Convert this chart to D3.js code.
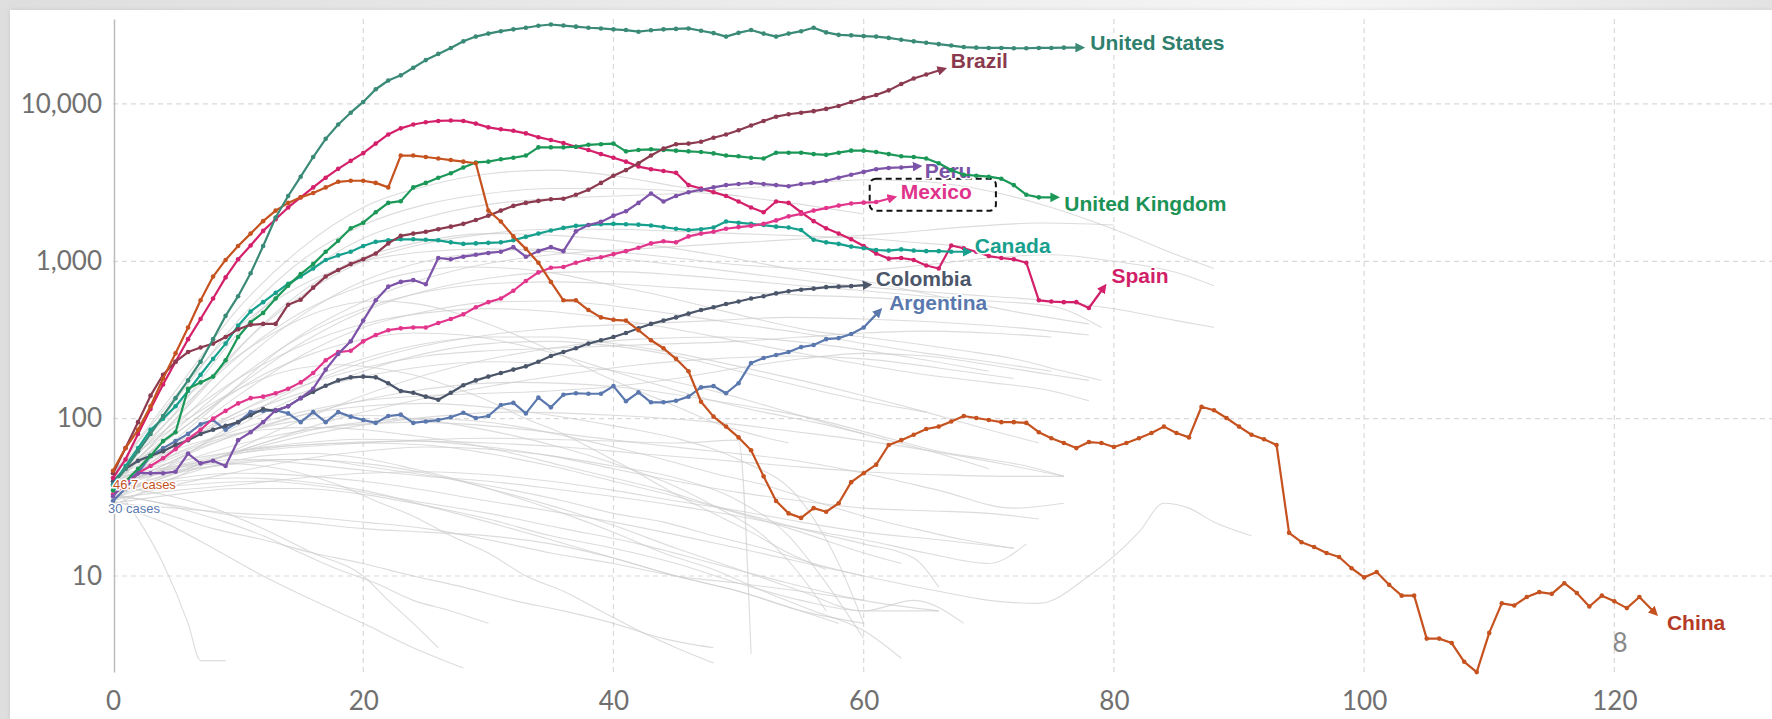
<!DOCTYPE html>
<html>
<head>
<meta charset="utf-8">
<script src="https://cdnjs.cloudflare.com/ajax/libs/d3/7.8.5/d3.min.js"></script>
<style>
  html, body { margin: 0; padding: 0; }
  body {
    width: 1772px; height: 719px; overflow: hidden; position: relative;
    background: linear-gradient(to right, #dedede 0%, #e9e9e9 35%, #f5f5f5 75%, #e3e3e3 100%);
  }
  #panel {
    position: absolute; left: 10px; top: 10px; width: 1762px; height: 709px;
    background: #fff; box-shadow: 0 0 4px rgba(0,0,0,0.10);
  }
  #chart { position: absolute; left: 0; top: 0; }
  .tick text { font-family: Lato, "Open Sans", sans-serif; fill: #707070; font-size: 26px; }
  .label { font-family: "Liberation Sans", Arial, sans-serif; font-weight: bold; font-size: 21px;
           paint-order: stroke; stroke: #fff; stroke-width: 3px; stroke-linejoin: round; }
</style>
</head>
<body>
<div id="panel"></div>
<div id="chart"></div>
<script>

// ---- data: 7-day average of daily new cases, by days since 30 average daily cases ----
var countries = ["Argentina", "Colombia", "Spain", "Canada", "Mexico", "Peru",
                 "United Kingdom", "Brazil", "China", "United States"];

var countryColors = ["#5a78ae", "#4b566a", "#d4206b", "#17a08e", "#e2368d", "#7c53a8",
                     "#1b9858", "#8c3a4f", "#c5521f", "#3a8a77"];

var labelColors = ["#5a78ae", "#4b566a", "#d01f68", "#17a08e", "#e0338b", "#7b52a6",
                   "#1b9256", "#8a3a4e", "#b43a26", "#2f7f6d"];

var argentina = [30,36,45,58,65,72,80,92,98,85, 95,110,112,113,108,95,110,95,110,103,
  98,94,104,106,94,96,98,102,109,101, 104,122,126,108,136,118,142,145,144,144,
  161,129,147,127,127,130,138,158,161,145, 168,226,243,254,265,285,294,320,325,345, 380,460];

var colombia = [40,48,54,58,62,68,73,80,85,90, 95,105,115,112,120,135,148,162,175,183,
  185,183,168,150,146,138,132,146,163,175, 185,195,205,215,230,250,265,280,300,315,
  330,350,375,400,420,440,465,490,510,535, 555,580,600,625,645,660,670,685,690,695, 705];

var spain = [42,55,80,115,165,230,320,430,580,790, 1030,1260,1560,1850,2200,2550,2950,3400,3870,4350,
  4870,5600,6400,7000,7400,7650,7800,7850,7800,7500, 7100,6900,6750,6500,6150,5900,5650,5350,5100,4800,
  4550,4300,4000,3850,3750,3650,3050,2900,2750,2600, 2400,2200,2050,2400,2350,2050,1800,1620,1500,1380,
  1250,1120,1040,1050,1020,940,900,1260,1210,1150, 1080,1050,1030,980,565,555,550,550,505,650];

var canada = [38,50,65,85,100,120,150,190,240,300, 390,480,550,630,720,800,900,1020,1090,1150,
  1250,1330,1360,1380,1380,1370,1360,1320,1290,1300, 1310,1320,1360,1430,1500,1570,1630,1680,1700,1720,
  1730,1720,1710,1690,1650,1610,1580,1600,1640,1790, 1760,1730,1700,1660,1640,1580,1370,1320,1290,1240,
  1210,1180,1170,1190,1170,1160,1160,1150,1150];

var mexico = [33,38,45,50,56,64,74,85,100,112, 125,135,138,145,155,170,195,235,265,270,
  310,340,365,375,380,380,405,430,460,510, 550,580,650,750,850,910,920,980,1030,1060,
  1110,1160,1220,1300,1340,1320,1440,1500,1540,1610, 1650,1680,1730,1820,1930,2000,2100,2180,2260,2330,
  2360,2380,2500];

var peru = [32,40,45,45,45,46,60,52,54,50, 73,82,95,113,120,135,155,205,258,310,
  420,565,690,740,760,715,1050,1030,1070,1100, 1130,1150,1230,1070,1160,1230,1160,1550,1700,1780,
  1950,2080,2350,2700,2400,2600,2750,2850,2950,3050, 3100,3150,3100,3050,3000,3100,3150,3250,3400,3550,
  3700,3850,3920,3950,4000];

var unitedKingdom = [35,40,48,58,72,82,155,170,185,235, 330,410,470,580,700,830,960,1150,1350,1620,
  1760,2050,2350,2410,2950,3150,3400,3630,3950,4250, 4300,4450,4550,4700,5300,5300,5300,5350,5500,5550,
  5600,5000,5100,5150,5100,5050,5000,4950,4850,4700, 4650,4550,4500,4900,4900,4900,4800,4750,4900,5050,
  5050,4950,4800,4650,4600,4500,4200,3800,3550,3500, 3450,3350,3050,2650,2550,2550];

var brazil = [45,65,95,140,190,230,265,283,300,330, 370,395,400,400,530,570,680,800,880,960,
  1030,1120,1300,1450,1500,1540,1600,1660,1730,1830, 1950,2100,2250,2350,2420,2480,2500,2650,2850,3150,
  3500,3800,4200,4700,5200,5550,5600,5750,6100,6400, 6800,7300,7800,8300,8600,8800,9000,9300,9700,10300,
  10900,11400,12200,13400,14500,15400,16300];

var china = [46.7,65,85,120,180,260,380,565,800,1020, 1250,1500,1800,2100,2350,2550,2720,2950,3200,3250,
  3250,3150,2950,4700,4700,4600,4500,4400,4300,4200, 2100,1790,1440,1200,980,740,565,565,490,440,
  425,420,365,315,280,240,200,128,103,89, 76,63,43,30,25,23.4,27,25.6,29,39.5,
  45,51,68,73,79,86,89,96,104,101, 98,95,95,94,82,75,70,65,71,70,
  66,70,75,81,89,81,76,119,113,101, 89,79,74,68,18.8,16.4,15.3,14,13.2,11.2,
  9.8,10.6,8.8,7.5,7.5,4.0,4.0,3.75,2.85,2.45, 4.35,6.7,6.5,7.35,7.9,7.7,9.0,7.8,6.4,7.5,
  6.9,6.25,7.35,6.1];

var unitedStates = [38,48,62,80,104,135,175,230,320,450, 600,840,1250,1900,2600,3450,4600,6000,7400,8800,
  10300,12400,14100,15200,17000,19000,20800,22700,25000,26800, 28000,29000,29800,30500,31400,32000,31500,31000,30500,30200,
  29800,29500,28800,29400,29800,30000,30200,29200,28200,26800, 28300,29500,28000,26800,28000,29000,30500,28500,27500,27300,
  27000,26800,26300,25600,25000,24500,24000,23500,23000,22800, 22700,22700,22600,22600,22700,22700,22800,22800];

var countryValues = [argentina, colombia, spain, canada, mexico, peru,
                     unitedKingdom, brazil, china, unitedStates];

// other countries, drawn in grey: [day, cases]
var otherCountries = [
  [[0,45],[5,150],[10,500],[15,1200],[20,2200],[25,3000],[30,3600],[35,3800],[40,3500],[45,3000],[50,2600],[55,2300],[60,2000]],
  [[0,40],[5,110],[10,350],[15,800],[20,1400],[25,1900],[30,2300],[35,2500],[40,2600],[45,2700],[50,2900],[55,3100],[60,3300],[65,3200],[70,2800],[75,2200],[80,1600],[85,1100],[88,900]],
  [[0,38],[6,120],[12,400],[18,900],[24,1300],[30,1500],[36,1450],[42,1300],[48,1100],[54,900],[60,750],[66,600],[72,480],[78,400]],
  [[0,42],[5,90],[10,220],[15,450],[20,750],[25,1000],[30,1150],[35,1200],[40,1150],[45,1050],[50,950],[55,900],[60,880],[65,950],[70,1050],[75,1100],[80,1000],[85,850],[88,700]],
  [[0,35],[7,100],[14,300],[21,600],[28,900],[35,1100],[42,1200],[49,1300],[56,1400],[62,1500],[68,1650],[74,1750],[80,1700]],
  [[0,44],[4,90],[8,180],[12,330],[16,520],[20,700],[24,850],[28,920],[32,900],[36,820],[40,700],[44,600],[48,500],[52,420],[56,360],[60,330],[64,300],[68,270],[72,240],[76,200],[79,175]],
  [[0,33],[5,70],[10,140],[15,250],[20,380],[25,480],[30,550],[35,560],[40,520],[45,460],[50,400],[55,350],[60,300],[65,260],[70,230],[75,200]],
  [[0,30],[6,60],[12,120],[18,200],[24,280],[30,340],[36,380],[42,400],[48,420],[54,440],[60,430],[66,410],[72,380],[78,340]],
  [[0,36],[5,55],[10,90],[15,140],[20,200],[25,260],[30,300],[35,310],[40,290],[45,250],[50,200],[55,160],[60,130],[65,110]],
  [[0,28],[7,50],[14,90],[21,150],[28,220],[35,280],[42,320],[49,330],[56,300],[63,250],[70,200]],
  [[0,40],[4,70],[8,120],[12,190],[16,260],[20,320],[24,350],[28,340],[32,300],[36,250],[40,200],[44,160],[48,130],[52,110],[56,95],[60,80]],
  [[0,32],[6,48],[12,70],[18,100],[24,130],[30,160],[36,190],[42,220],[48,240],[54,250],[60,240],[66,210],[72,180]],
  [[0,45],[3,80],[6,140],[9,220],[12,320],[15,430],[18,520],[21,560],[24,540],[27,480],[30,400],[33,320],[36,250],[39,190],[42,150],[45,120],[48,95],[51,80],[54,70]],
  [[0,37],[5,60],[10,85],[15,110],[20,130],[25,140],[30,145],[35,150],[40,160],[45,180],[50,210],[55,240],[60,260],[65,250],[70,220],[75,190],[78,175]],
  [[0,34],[8,55],[16,80],[24,100],[32,110],[40,105],[48,95],[56,80],[64,65],[72,50],[76,43]],
  [[0,38],[4,45],[8,50],[12,55],[16,55],[20,50],[24,45],[28,40],[32,35],[36,30],[40,25],[44,22],[48,18],[52,15],[56,12],[60,10]],
  [[0,35],[5,40],[10,42],[15,40],[20,35],[25,28],[30,22],[35,17],[40,13],[45,10],[50,8],[55,6],[60,5]],
  [[0,32],[3,30],[6,26],[9,22],[12,18],[15,14],[18,11],[21,9],[24,7],[27,6],[30,5]],
  [[0,40],[1,30],[2,23],[4,12],[6,5],[7,2.9],[9,2.9]],
  [[0,30],[4,25],[8,20],[12,17],[16,14],[20,12],[24,10],[28,8.5],[32,7],[36,6],[40,5],[44,4],[48,3.5]],
  [[0,42],[5,50],[10,55],[15,52],[20,47],[25,43],[30,40],[35,36],[40,32],[45,28],[50,24],[55,20],[60,17],[65,14],[70,12],[73,16]],
  [[0,36],[5,48],[10,60],[15,68],[20,70],[25,68],[30,60],[35,50],[40,40],[45,32],[50,25],[55,19],[60,14],[63,12]],
  [[0,28],[4,22],[8,15],[12,10],[16,7],[20,5],[24,3.5],[28,2.6]],
  [[0,34],[6,38],[12,40],[18,36],[24,30],[30,25],[36,20],[42,16],[48,12],[54,9],[60,7],[66,6]],
  [[0,39],[3,45],[6,50],[9,52],[12,50],[15,45],[18,38],[21,30],[24,24],[27,18],[30,14],[33,10],[36,8],[39,6],[42,4.5],[45,3.5],[48,2.8]],
  [[0,31],[5,35],[10,38],[15,42],[20,45],[25,46],[30,44],[35,40],[40,35],[45,30],[50,26],[55,22],[60,19],[66,17],[72,15]],
  [[0,45],[4,60],[8,75],[12,85],[16,88],[20,85],[24,78],[28,70],[32,60],[36,50],[40,42],[44,35],[48,28],[52,23],[56,19],[60,16],[64,13],[66,8.5]],
  [[0,33],[5,28],[10,24],[15,22],[20,20],[25,19],[30,18],[35,16],[40,13],[45,10],[50,8],[55,6],[58,5]],
  [[0,37],[4,33],[8,27],[12,20],[16,14],[20,10],[22,7],[24,5],[26,3.5]],
  [[0,43],[6,55],[12,65],[18,70],[24,72],[30,70],[36,66],[42,60],[48,55],[54,50],[60,46],[66,44],[72,43],[76,43]],
  [[0,29],[5,33],[10,36],[15,36],[20,33],[25,28],[30,23],[35,18],[40,15],[45,12],[50,9],[55,7],[60,6],[66,6]],
  [[0,35],[10,45],[20,40],[30,30],[40,22],[50,15],[60,10],[66,8],[70,7],[74,6.7],[78,10],[82,19],[84,29],[86,27],[88,22],[91,18]],
  [[0,40],[8,70],[16,110],[24,150],[32,170],[40,160],[48,130],[56,100],[62,75],[66,62],[70,55],[73,50],[76,43]],
  [[0,36],[6,55],[12,75],[18,90],[24,95],[30,90],[36,80],[42,70],[48,62],[54,55],[60,45],[66,35],[72,27],[76,29]],
  [[0,31],[4,40],[8,50],[12,58],[16,60],[20,56],[24,48],[28,40],[32,32],[36,25],[40,19],[44,14],[48,11],[52,8],[56,6],[60,4.5],[63,3]],
  [[0,47],[3,70],[6,100],[9,140],[12,180],[15,210],[18,220],[21,210],[24,190],[27,160],[30,130],[33,100],[36,80],[39,60],[42,45],[45,33],[48,25],[51,19],[54,14],[57,11]],
  [[0,38],[5,65],[10,110],[15,170],[20,240],[25,300],[30,330],[35,330],[40,300],[45,260],[50,215],[55,175],[60,140],[65,110],[70,85],[74,70]],
  [[0,42],[5,80],[10,160],[15,300],[20,480],[25,650],[30,780],[35,850],[40,860],[45,820],[50,760],[55,700],[60,650],[65,600],[70,560],[75,520],[79,380]],
  [[0,38],[10,60],[20,70],[30,75],[40,72],[45,70],[50,73],[51,3.2]],
  [[0,40],[5,130],[10,420],[15,1000],[20,1700],[25,2300],[30,2700],[35,2900],[40,2900],[45,2800],[50,2600]],
  [[0,36],[5,100],[10,280],[15,600],[20,1000],[25,1300],[30,1500],[35,1600],[40,1600],[45,1550],[50,1500],[55,1450],[60,1400],[65,1300],[68,1250]],
  [[0,44],[5,140],[10,380],[15,700],[20,1000],[25,1150],[30,1200],[35,1150],[40,1050],[45,950],[50,850],[55,760],[60,690],[65,640],[70,600],[75,560],[80,500],[85,420],[88,380]],
  [[0,39],[5,85],[10,180],[15,330],[20,500],[25,640],[30,720],[35,740],[40,720],[45,680],[50,640],[55,610],[60,590],[65,560],[70,520]],
  [[0,35],[5,55],[10,80],[15,105],[20,120],[25,125],[30,118],[35,105],[40,90],[45,75],[50,55],[55,30],[58,12],[60,5]],
  [[0,41],[6,75],[12,120],[18,170],[24,210],[30,230],[36,220],[42,190],[48,150],[54,110],[60,80],[66,60],[70,48]],
  [[0,30],[5,38],[10,46],[15,55],[20,62],[25,66],[30,64],[35,58],[40,50],[45,42],[50,30],[54,18],[57,9],[60,4]],
  [[0,33],[4,42],[8,55],[12,70],[16,85],[20,95],[24,100],[28,98],[32,90],[36,78],[40,66],[44,55],[48,45],[52,38],[56,30],[60,24],[64,20],[68,17],[72,15]],
  [[0,46],[5,95],[10,180],[15,290],[20,400],[25,470],[30,500],[35,480],[40,430],[45,370],[50,310],[55,260],[60,220],[65,190],[70,170],[75,150],[78,130]],
  [[0,34],[5,45],[10,52],[15,55],[20,52],[25,45],[30,36],[35,28],[40,21],[45,15],[50,11],[55,8],[60,6],[64,7],[68,5]],
  [[0,29],[5,27],[10,25],[15,24],[20,22],[25,20],[30,17],[35,14],[40,12],[45,10],[50,9],[55,8],[60,7]],
  [[0,39],[4,55],[8,72],[12,88],[16,100],[20,105],[24,100],[28,90],[32,78],[36,65],[40,52],[44,40],[48,28],[52,18],[55,10],[57,6]],
  [[0,43],[5,70],[10,110],[15,160],[20,210],[25,250],[30,270],[35,280],[40,290],[45,300],[50,310],[55,330],[60,350],[65,360],[70,350],[75,330]],
  [[0,37],[5,50],[10,62],[15,70],[20,74],[25,72],[30,66],[35,58],[40,48],[45,40],[50,34],[55,30],[60,27],[65,26],[70,25],[74,23]]
];

var xTicks = [0, 20, 40, 60, 80, 100, 120];
var yTicks = [10, 100, 1000, 10000];

// ---- layout ----
var width = 1772, height = 719;
var plot = {left: 113, top: 19, bottom: 672, right: 1772};

var svg = d3.select("#chart").append("svg")
    .attr("width", width)
    .attr("height", height);

var x = d3.scaleLinear().domain([0, 132.6]).range([plot.left, plot.right]);
var y = d3.scaleLog().domain([2.454, 34670]).range([plot.bottom, plot.top]);

svg.append("clipPath").attr("id", "clip")
  .append("rect")
    .attr("x", plot.left).attr("y", plot.top - 5)
    .attr("width", plot.right - plot.left).attr("height", plot.bottom - plot.top + 5);

// grid
svg.append("g").selectAll("line")
  .data(yTicks).enter().append("line")
    .attr("x1", plot.left).attr("x2", plot.right)
    .attr("y1", d => y(d)).attr("y2", d => y(d))
    .attr("stroke", "#d9d9d9").attr("stroke-width", 1.2).attr("stroke-dasharray", "5,4");

svg.append("g").selectAll("line")
  .data(xTicks.filter(d => d > 0)).enter().append("line")
    .attr("x1", d => x(d)).attr("x2", d => x(d))
    .attr("y1", plot.top).attr("y2", plot.bottom)
    .attr("stroke", "#d9d9d9").attr("stroke-width", 1.2).attr("stroke-dasharray", "5,4");

// axes
var yAxis = svg.append("g")
  .attr("transform", "translate(" + (plot.left + 1) + ",0)")
  .call(d3.axisLeft(y).tickValues(yTicks).tickFormat(d3.format(",")).tickSize(0).tickSizeOuter(0).tickPadding(12));
yAxis.select(".domain").attr("stroke", "#bdbdbd").attr("stroke-width", 1.5);

var xAxis = svg.append("g")
  .attr("transform", "translate(0," + plot.bottom + ")")
  .call(d3.axisBottom(x).tickValues(xTicks).tickSize(0).tickPadding(20));
xAxis.select(".domain").remove();

// grey lines
var greyLine = d3.line()
  .x(d => x(d[0]))
  .y(d => y(d[1]))
  .curve(d3.curveMonotoneX);

svg.append("g").attr("clip-path", "url(#clip)")
  .selectAll("path")
  .data(otherCountries).enter().append("path")
    .attr("d", greyLine)
    .attr("fill", "none")
    .attr("stroke", "#cdcdcd")
    .attr("stroke-opacity", 0.7)
    .attr("stroke-width", 1.1);

// arrow markers
var defs = svg.append("defs");
countries.forEach(function(c, i) {
  defs.append("marker")
    .attr("id", "arrow" + i)
    .attr("viewBox", "0 0 10 10")
    .attr("refX", 1).attr("refY", 5)
    .attr("markerWidth", 4.4).attr("markerHeight", 4.4)
    .attr("orient", "auto")
    .append("path")
      .attr("d", "M0,0L10,5L0,10z")
      .attr("fill", countryColors[i]);
});

// label placement relative to the last point (pixels)
var labelPos = {
  "United States":  {dx: 14, dy: 2},
  "Brazil":         {dx: 12, dy: -3},
  "United Kingdom": {dx: 13, dy: 14},
  "Peru":           {dx: 11, dy: 11},
  "Mexico":         {dx: 12, dy: 0},
  "Canada":         {dx: 11, dy: 1},
  "Spain":          {dx: 10, dy: -8},
  "Colombia":       {dx: 12, dy: 1},
  "Argentina":      {dx: 13, dy: -4},
  "China":          {dx: 15, dy: 20}
};

var line = d3.line()
  .x(d => x(d[0]))
  .y(d => y(d[1]));

countries.forEach(function(name, i) {
  var pts = countryValues[i].map((v, day) => [day, v]);
  var g = svg.append("g");

  g.append("path")
    .datum(pts)
    .attr("d", line)
    .attr("fill", "none")
    .attr("stroke", countryColors[i])
    .attr("stroke-width", 2.2)
    .attr("stroke-linejoin", "round")
    .attr("marker-end", "url(#arrow" + i + ")");

  g.selectAll("circle")
    .data(pts.slice(0, -1)).enter().append("circle")
      .attr("cx", d => x(d[0]))
      .attr("cy", d => y(d[1]))
      .attr("r", 2.3)
      .attr("fill", countryColors[i]);

  var last = pts[pts.length - 1];
  var p = labelPos[name];
  var t = g.append("text")
    .attr("class", "label")
    .attr("x", x(last[0]) + p.dx)
    .attr("y", y(last[1]) + p.dy)
    .attr("fill", labelColors[i])
    .text(name);

  if (name === "Mexico") {
    var b = t.node().getBBox();
    g.append("rect")
      .attr("x", b.x - 31).attr("y", b.y - 1)
      .attr("width", b.width + 55).attr("height", b.height + 9)
      .attr("rx", 6)
      .attr("fill", "none")
      .attr("stroke", "#111")
      .attr("stroke-width", 2)
      .attr("stroke-dasharray", "6,4");
  }
});

// start annotations
svg.append("text")
  .attr("x", x(0)).attr("y", 489)
  .attr("font-family", "Liberation Sans, Arial, sans-serif").attr("font-size", 13)
  .attr("fill", countryColors[countries.indexOf("China")])
  .attr("paint-order", "stroke").attr("stroke", "#fff").attr("stroke-width", 3)
  .text("46.7 cases");

svg.append("text")
  .attr("x", x(0) - 5).attr("y", 513)
  .attr("font-family", "Liberation Sans, Arial, sans-serif").attr("font-size", 13)
  .attr("fill", countryColors[countries.indexOf("Argentina")])
  .attr("paint-order", "stroke").attr("stroke", "#fff").attr("stroke-width", 3)
  .text("30 cases");

svg.append("text")
  .attr("x", 1620).attr("y", 652)
  .attr("text-anchor", "middle")
  .attr("font-family", "Lato, sans-serif").attr("font-size", 26)
  .attr("fill", "#8a8a8a")
  .text("8");

</script>
</body>
</html>
